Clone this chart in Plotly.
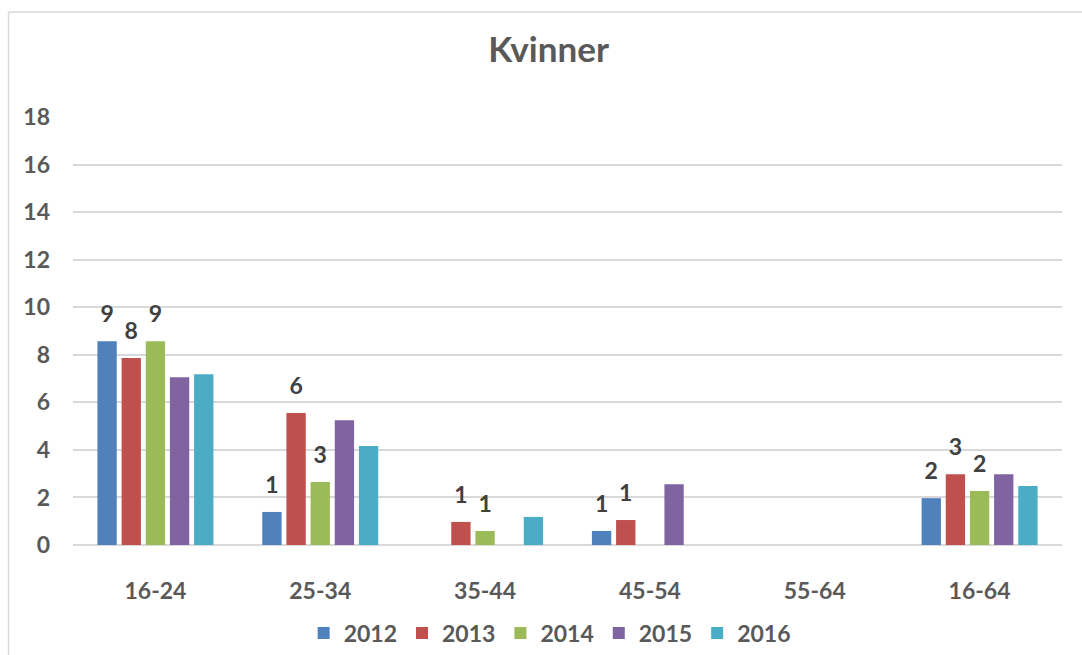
import plotly.graph_objects as go

# Age groups and yearly values (women)
categories = ["16-24", "25-34", "35-44", "45-54", "55-64", "16-64"]
years = ["2012", "2013", "2014", "2015", "2016"]

v2012 = [8.57, 1.39, None, 0.59, None, 1.97]
v2013 = [7.86, 5.55, 0.97, 1.05, None, 2.98]
v2014 = [8.57, 2.65, 0.59, None, None, 2.27]
v2015 = [7.06, 5.25, None, 2.56, None, 2.98]
v2016 = [7.18, 4.16, 1.18, None, None, 2.48]

series = [v2012, v2013, v2014, v2015, v2016]
labelled = [True, True, True, False, False]
colors = ["#4F81BD", "#C0504D", "#9BBB59", "#8064A2", "#4BACC6"]

FONT = "Lato"
GREY = "#595959"

fig = go.Figure()
for name, vals, col, lab in zip(years, series, colors, labelled):
    fig.add_trace(go.Bar(
        name=name,
        x=categories,
        y=vals,
        marker=dict(color=col, line=dict(width=0)),
        # value label with a small blank line underneath to lift it off the bar
        texttemplate=("<span style='font-size:23px'>%{y:.0f}</span><br> "
                      if lab else None),
        textposition="outside" if lab else "none",
        textfont=dict(family=FONT, size=11, color="#404040", weight="bold"),
        cliponaxis=False,
    ))

# light frame around the chart, open to the right and bottom
fig.add_shape(type="line", xref="paper", yref="paper",
              x0=-0.0652, x1=1.05, y0=1.2453, y1=1.2453,
              line=dict(color="#d9d9d9", width=1.5))
fig.add_shape(type="line", xref="paper", yref="paper",
              x0=-0.0652, x1=-0.0652, y0=1.2453, y1=-0.3,
              line=dict(color="#d9d9d9", width=1.5))

fig.update_layout(
    width=1082, height=655,
    margin=dict(l=73, r=20, t=117, b=110, autoexpand=False),
    paper_bgcolor="white", plot_bgcolor="white",
    barmode="group", bargap=0.267, bargroupgap=0.2,
    title=dict(text="Kvinner", x=0.507, xanchor="center",
               y=0.924, yanchor="middle", yref="container",
               font=dict(family=FONT, size=35, color=GREY, weight="bold")),
    legend=dict(orientation="h", x=0.508, xanchor="center", xref="container",
                y=0.0336, yanchor="middle", yref="container",
                font=dict(family=FONT, size=23, color=GREY, weight="bold"),
                itemwidth=30, traceorder="normal"),
    showlegend=True,
)
fig.update_yaxes(range=[0, 18], dtick=2, showgrid=True, gridcolor="#d9d9d9",
                 gridwidth=1.5, zeroline=True, zerolinecolor="#d9d9d9",
                 zerolinewidth=1.5, showline=False, ticks="",
                 ticklabelstandoff=22,
                 tickfont=dict(family=FONT, size=23, color=GREY, weight="bold"))
fig.update_xaxes(showline=False, ticks="", ticklabelstandoff=30,
                 tickfont=dict(family=FONT, size=23, color=GREY, weight="bold"))

fig.write_html("out.html")
